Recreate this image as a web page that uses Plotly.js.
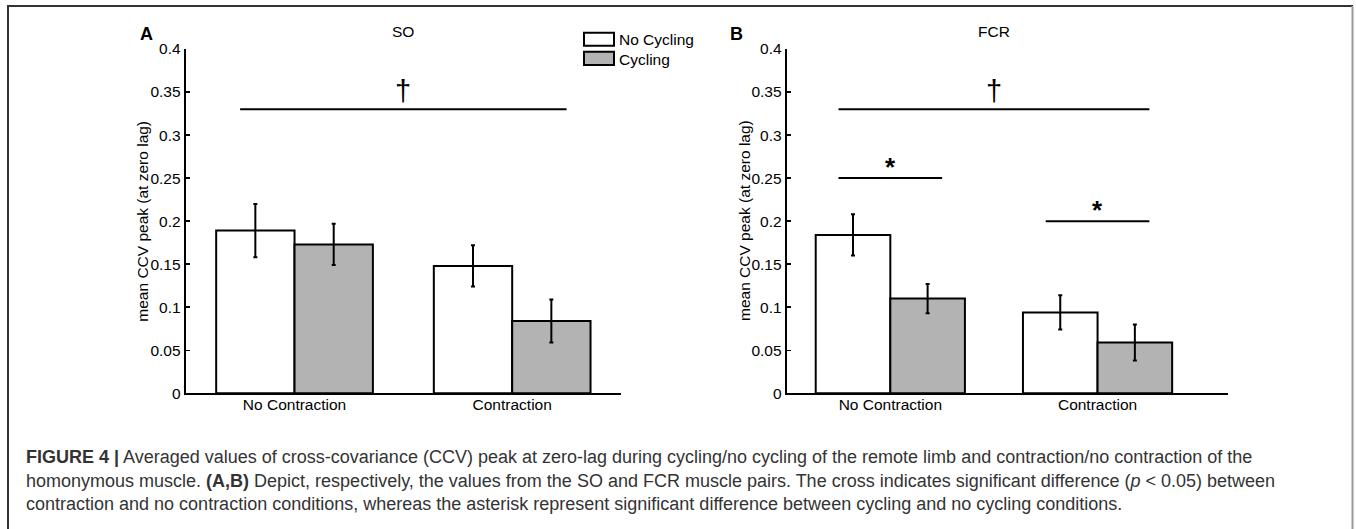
<!DOCTYPE html>
<html>
<head>
<meta charset="utf-8">
<script src="https://cdn.plot.ly/plotly-3.0.1.min.js"></script>
<style>
  html, body { margin: 0; padding: 0; background: #fff; }
  #fig { width: 1356px; height: 529px; }
</style>
</head>
<body>
<div id="fig"></div>
<script>
// Mean cross-covariance (CCV) peak at zero lag, with error bars
const categories = ["No Contraction", "Contraction"];
const seriesNames = ["No Cycling", "Cycling"];

// SO muscle pair
const soNoCycling      = [0.189, 0.148];
const soNoCyclingErr   = [0.031, 0.024];
const soCycling        = [0.173, 0.084];
const soCyclingErr     = [0.024, 0.025];

// FCR muscle pair
const fcrNoCycling     = [0.184, 0.094];
const fcrNoCyclingErr  = [0.024, 0.020];
const fcrCycling       = [0.110, 0.059];
const fcrCyclingErr    = [0.017, 0.021];

const yTickVals   = [0, 0.05, 0.1, 0.15, 0.2, 0.25, 0.3, 0.35, 0.4];
const yTickLabels = ["0", "0.05", "0.1", "0.15", "0.2", "0.25", "0.3", "0.35", "0.4"];

// Significance markers: [x from, x to, level, symbol]
const soMarks  = [[0.75, 2.25, 0.33, "†"]];
const fcrMarks = [[0.75, 2.25, 0.33, "†"], [0.75, 1.25, 0.25, "*"], [1.75, 2.25, 0.20, "*"]];

const W = 1356, H = 529;
const px = x => x / W;
const py = y => 1 - y / H;
const FONT = '"Liberation Sans", Arial, Helvetica, sans-serif';
const GRAY = '#b3b3b3';
const xPos = [1, 2];

function barTrace(name, vals, errs, fill, xa, ya) {
  return {
    type: 'bar', name: name, x: xPos, y: vals, xaxis: xa, yaxis: ya,
    marker: { color: fill, line: { color: '#000', width: 2 } },
    error_y: { type: 'data', array: errs, visible: true, color: '#000', thickness: 2, width: 2 },
    showlegend: false, hoverinfo: 'none'
  };
}

const data = [
  barTrace(seriesNames[0], soNoCycling, soNoCyclingErr, '#ffffff', 'x', 'y'),
  barTrace(seriesNames[1], soCycling, soCyclingErr, GRAY, 'x', 'y'),
  barTrace(seriesNames[0], fcrNoCycling, fcrNoCyclingErr, '#ffffff', 'x2', 'y2'),
  barTrace(seriesNames[1], fcrCycling, fcrCyclingErr, GRAY, 'x2', 'y2')
];

function xAxis(domain, range, anchor) {
  return {
    domain: domain, range: range, anchor: anchor,
    tickvals: xPos, ticktext: categories, ticks: '',
    ticklabelstandoff: -4,
    showline: true, linecolor: '#000', linewidth: 2,
    showgrid: false, zeroline: false, fixedrange: true,
    tickfont: { family: FONT, size: 15.5, color: '#000' }
  };
}
function yAxis(domain, anchor) {
  return {
    domain: domain, range: [0, 0.4], anchor: anchor,
    tickvals: yTickVals, ticktext: yTickLabels,
    ticks: 'inside', ticklen: 4, tickwidth: 1.5, tickcolor: '#000',
    showline: true, linecolor: '#000', linewidth: 2,
    showgrid: false, zeroline: false, fixedrange: true,
    tickfont: { family: FONT, size: 15.5, color: '#000' }
  };
}

const yDom = [py(393.3), py(49)];

const shapes = [];
const annotations = [];

function addMarks(marks, xa, ya) {
  marks.forEach(m => {
    shapes.push({ type: 'line', xref: xa, yref: ya, x0: m[0], x1: m[1], y0: m[2], y1: m[2],
                  line: { color: '#000', width: 2 } });
    const isDagger = m[3] === '†';
    annotations.push({
      xref: xa, yref: ya, x: (m[0] + m[1]) / 2, y: m[2], text: isDagger ? m[3] : '<b>' + m[3] + '</b>',
      showarrow: false, xanchor: 'center', yanchor: 'bottom',
      yshift: isDagger ? 0 : -6,
      font: { family: FONT, size: isDagger ? 29 : 26, color: '#000' }
    });
  });
}
addMarks(soMarks, 'x', 'y');
addMarks(fcrMarks, 'x2', 'y2');

// Panel titles and letters
annotations.push({ xref: 'x', yref: 'paper', x: 1.5, y: py(31.7), text: 'SO', showarrow: false,
  xanchor: 'center', yanchor: 'middle', font: { family: FONT, size: 15.5, color: '#000' } });
annotations.push({ xref: 'x2', yref: 'paper', x: 1.5, y: py(31.7), text: 'FCR', showarrow: false,
  xanchor: 'center', yanchor: 'middle', font: { family: FONT, size: 15.5, color: '#000' } });
annotations.push({ xref: 'paper', yref: 'paper', x: px(146), y: py(33.5), text: '<b>A</b>', showarrow: false,
  xanchor: 'center', yanchor: 'middle', font: { family: FONT, size: 18, color: '#000' } });
annotations.push({ xref: 'paper', yref: 'paper', x: px(736), y: py(33.5), text: '<b>B</b>', showarrow: false,
  xanchor: 'center', yanchor: 'middle', font: { family: FONT, size: 18, color: '#000' } });

// Y axis titles
const yTitle = 'mean CCV peak (at zero lag)';
[141.7, 744].forEach(x => annotations.push({
  xref: 'paper', yref: 'paper', x: px(x), y: py(221), text: yTitle, textangle: -90, showarrow: false,
  xanchor: 'center', yanchor: 'middle', font: { family: FONT, size: 15.5, color: '#000' }
}));

// Legend
const legendFills = ['#ffffff', GRAY];
const legendRows = [[32.7, 45.7, 39.3], [51.7, 65, 59.3]];
seriesNames.forEach((name, i) => {
  const r = legendRows[i];
  shapes.push({ type: 'rect', xref: 'paper', yref: 'paper', x0: px(584), x1: px(614), y0: py(r[1]), y1: py(r[0]),
    fillcolor: legendFills[i], line: { color: '#000', width: 2 } });
  annotations.push({ xref: 'paper', yref: 'paper', x: px(616.5), y: py(r[2]), text: name, showarrow: false,
    xanchor: 'left', yanchor: 'middle', font: { family: FONT, size: 15.5, color: '#000' } });
});

// Figure frame
shapes.push({ type: 'line', xref: 'paper', yref: 'paper', x0: px(7), x1: px(1353), y0: py(6), y1: py(6), line: { color: '#333', width: 2 } });
shapes.push({ type: 'line', xref: 'paper', yref: 'paper', x0: px(8), x1: px(8), y0: py(6), y1: 0, line: { color: '#333', width: 2 } });
shapes.push({ type: 'line', xref: 'paper', yref: 'paper', x0: px(1352.5), x1: px(1352.5), y0: py(6), y1: 0, line: { color: '#999', width: 2 } });

// Caption
const captionLines = [
  '<b>FIGURE 4 |</b> Averaged values of cross-covariance (CCV) peak at zero-lag during cycling/no cycling of the remote limb and contraction/no contraction of the',
  'homonymous muscle. <b>(A,B)</b> Depict, respectively, the values from the SO and FCR muscle pairs. The cross indicates significant difference (<i>p</i> &lt; 0.05) between',
  'contraction and no contraction conditions, whereas the asterisk represent significant difference between cycling and no cycling conditions.'
];
const captionY = [457, 480.5, 504];
captionLines.forEach((t, i) => annotations.push({
  xref: 'paper', yref: 'paper', x: px(24), y: py(captionY[i]), text: t, showarrow: false,
  xanchor: 'left', yanchor: 'middle', font: { family: FONT, size: 18, color: '#333' }
}));

const layout = {
  width: W, height: H,
  margin: { l: 0, r: 0, t: 0, b: 0, pad: 0 },
  paper_bgcolor: '#fff', plot_bgcolor: 'rgba(0,0,0,0)',
  barmode: 'group', bargap: 0.28, bargroupgap: 0,
  showlegend: false,
  font: { family: FONT, color: '#000' },
  xaxis: xAxis([px(185.7), px(621)], [0.5, 2.5], 'y'),
  yaxis: yAxis(yDom, 'x'),
  xaxis2: xAxis([px(786.7), px(1227.7)], [0.5, 2.628], 'y2'),
  yaxis2: yAxis(yDom, 'x2'),
  shapes: shapes,
  annotations: annotations
};

Plotly.newPlot('fig', data, layout, { displayModeBar: false, staticPlot: true });
</script>
</body>
</html>
